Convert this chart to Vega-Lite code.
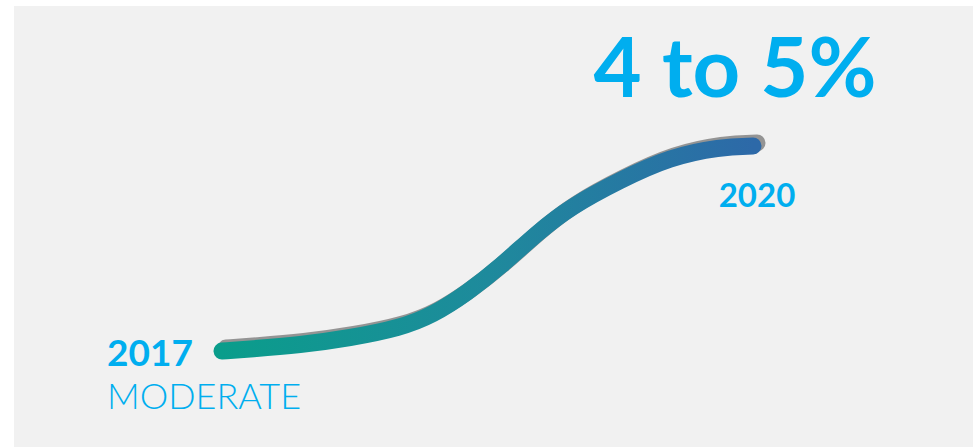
{
  "$schema": "https://vega.github.io/schema/vega-lite/v6.json",
  "width": 973,
  "height": 447,
  "autosize": {"type": "fit", "contains": "padding"},
  "padding": {"left": 14, "top": 6, "right": 0, "bottom": 0},
  "background": "#ffffff",
  "config": {"view": {"stroke": null, "fill": "#f1f1f1"}},
  "data": {
    "values": [
      {"year": 2017.0, "level": 96, "label": "2017", "sub": "MODERATE"},
      {"year": 2017.158, "level": 98},
      {"year": 2017.441, "level": 102},
      {"year": 2017.723, "level": 109},
      {"year": 2018.006, "level": 119},
      {"year": 2018.192, "level": 132},
      {"year": 2018.384, "level": 154},
      {"year": 2018.571, "level": 180},
      {"year": 2018.78, "level": 214},
      {"year": 2018.966, "level": 240},
      {"year": 2019.249, "level": 267},
      {"year": 2019.531, "level": 290},
      {"year": 2019.814, "level": 300},
      {"year": 2020.0, "level": 301, "label": "2020", "headline": "4 to 5%"}
    ]
  },
  "encoding": {
    "x": {"field": "year", "type": "quantitative", "scale": {"domain": [2015.8249, 2021.2429], "nice": false, "zero": false}, "axis": null},
    "y": {"field": "level", "type": "quantitative", "scale": {"domain": [0, 441], "nice": false, "zero": false}, "axis": null}
  },
  "layer": [
    {
      "mark": {"type": "line", "interpolate": "basis", "stroke": "#8a8a8a", "strokeWidth": 17, "strokeCap": "round", "opacity": 0.9, "xOffset": 4, "yOffset": -3}
    },
    {
      "mark": {
        "type": "line",
        "interpolate": "basis",
        "strokeWidth": 17,
        "strokeCap": "round",
        "stroke": {
          "gradient": "linear",
          "x1": 0, "y1": 0, "x2": 1, "y2": 0,
          "stops": [
            {"offset": 0, "color": "#0a9d8b"},
            {"offset": 0.5, "color": "#1e8a9c"},
            {"offset": 1, "color": "#2d69a8"}
          ]
        }
      }
    },
    {
      "transform": [{"filter": "datum.label === '2017'"}],
      "mark": {"type": "text", "align": "left", "baseline": "alphabetic", "dx": -115, "dy": 15, "font": "Lato", "fontWeight": "bold", "fontSize": 37, "color": "#00aeef"},
      "encoding": {"text": {"field": "label"}}
    },
    {
      "transform": [{"filter": "datum.label === '2017'"}],
      "mark": {"type": "text", "align": "left", "baseline": "alphabetic", "dx": -115, "dy": 58, "font": "Lato", "fontWeight": 300, "fontSize": 36, "color": "#00aeef"},
      "encoding": {"text": {"field": "sub"}}
    },
    {
      "transform": [{"filter": "datum.label === '2020'"}],
      "mark": {"type": "text", "align": "center", "baseline": "alphabetic", "dx": 4, "dy": 61, "font": "Lato", "fontWeight": "bold", "fontSize": 33, "color": "#00aeef"},
      "encoding": {"text": {"field": "label"}}
    },
    {
      "transform": [{"filter": "datum.label === '2020'"}],
      "mark": {"type": "text", "align": "center", "baseline": "alphabetic", "dx": -18, "dy": -49, "font": "Lato", "fontWeight": "bold", "fontSize": 83, "color": "#00aeef"},
      "encoding": {"text": {"field": "headline"}}
    }
  ]
}
